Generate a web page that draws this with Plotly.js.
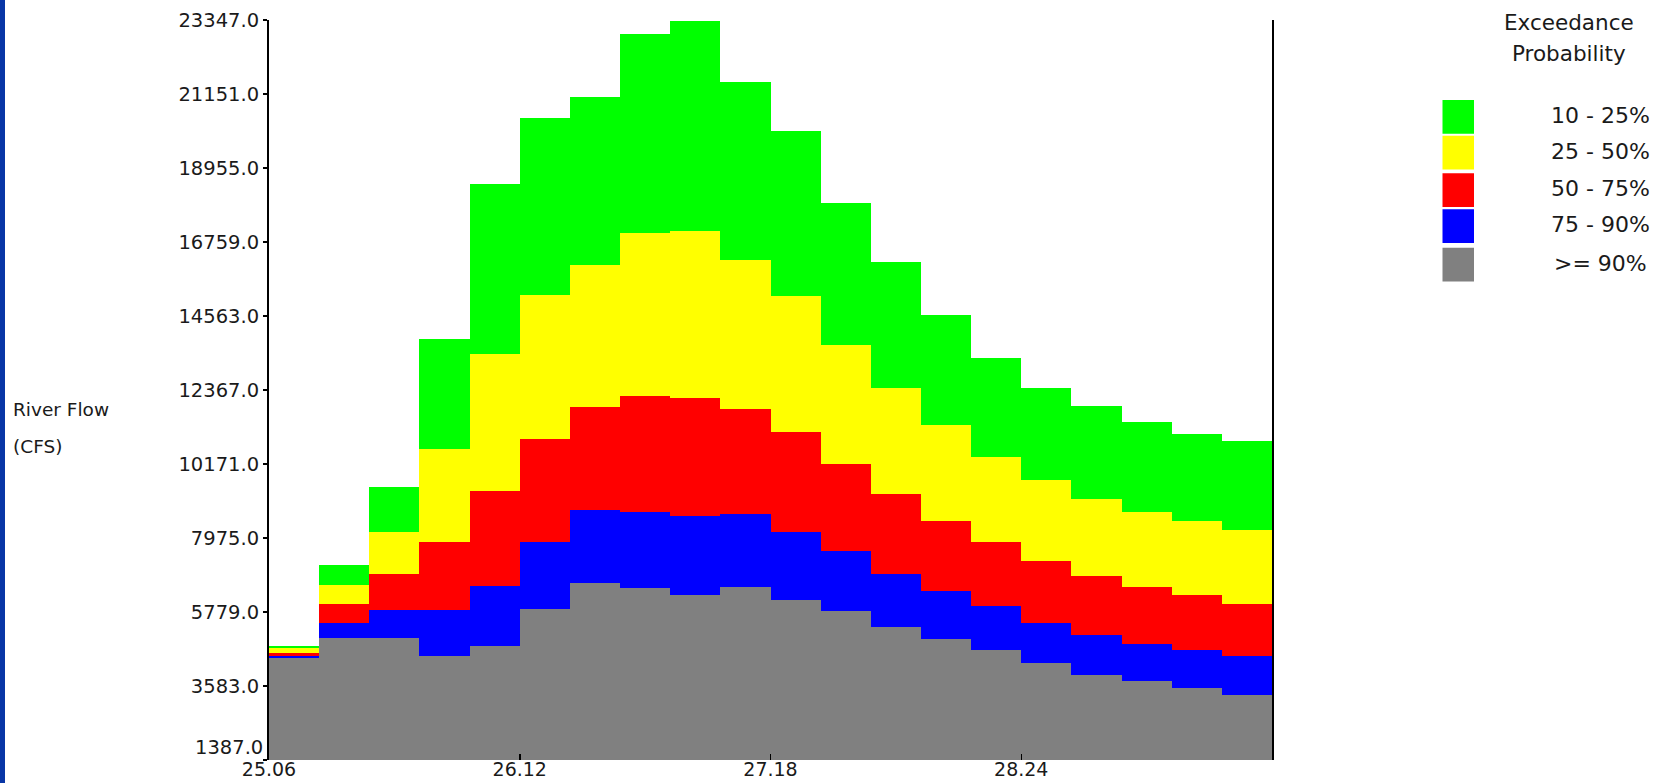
<!DOCTYPE html>
<html>
<head>
<meta charset="utf-8">
<script src="https://cdn.plot.ly/plotly-3.0.1.min.js"></script>
<style>
  html, body { margin: 0; padding: 0; background: #ffffff; }
  #chart { width: 1666px; height: 783px; }
  #edge { position: absolute; left: 0; top: 0; width: 5px; height: 783px; background: #0836a6; z-index: 10; }
</style>
</head>
<body>
<div id="edge"></div>
<div id="chart"></div>
<script>
// ---- Data ----
// Start of each time step on the x axis
const stepStart = [25.06, 25.272, 25.484, 25.696, 25.908, 26.12, 26.332, 26.544, 26.756, 26.968,
                   27.18, 27.392, 27.604, 27.816, 28.028, 28.24, 28.452, 28.664, 28.876, 29.088];
const stepWidth = 0.212;

// Upper boundary of each exceedance band (CFS)
const top10to25 = [4757, 7163, 9488, 13894, 18486, 20427, 21051, 22941, 23308, 21496,
                   20051, 17922, 16151, 14587, 13320, 12429, 11884, 11418, 11062, 10854];
const top25to50 = [4707, 6589, 8152, 10616, 13449, 15201, 16071, 17032, 17091, 16220,
                   15151, 13696, 12429, 11320, 10380, 9687, 9123, 8737, 8479, 8221];
const top50to75 = [4570, 6025, 6916, 7846, 9360, 10925, 11864, 12181, 12132, 11815,
                   11122, 10182, 9291, 8479, 7846, 7281, 6846, 6519, 6281, 6025];
const top75to90 = [4460, 5461, 5835, 5835, 6539, 7855, 8796, 8737, 8618, 8677,
                   8163, 7598, 6916, 6410, 5965, 5461, 5084, 4837, 4648, 4460];
const top90plus = [4401, 5016, 5016, 4460, 4766, 5856, 6648, 6480, 6291, 6519,
                   6143, 5797, 5331, 4965, 4648, 4273, 3896, 3718, 3519, 3322];

const bandLabels = ['10 - 25%', '25 - 50%', '50 - 75%', '75 - 90%', '>= 90%'];
const bandColors = ['#00ff00', '#ffff00', '#ff0000', '#0000ff', '#808080'];
const bandTops = [top10to25, top25to50, top50to75, top75to90, top90plus];

const yTickVals = [1387, 3583, 5779, 7975, 10171, 12367, 14563, 16759, 18955, 21151, 23347];
const yTickText = ['1387.0', '3583.0', '5779.0', '7975.0', '10171.0', '12367.0', '14563.0',
                   '16759.0', '18955.0', '21151.0', '23347.0'];
const xTickVals = [25.06, 26.12, 27.18, 28.24];
const xTickText = ['25.06', '26.12', '27.18', '28.24'];

const yTitleLines = ['River Flow', '(CFS)'];
const legendTitleLines = ['Exceedance', 'Probability'];

// ---- Geometry helpers (pixel -> paper) ----
const L = 269, R = 1272, T = 20, B = 760;
const px = x => (x - L) / (R - L);
const py = y => (B - y) / (B - T);

const FONT = 'DejaVu Sans, Verdana, sans-serif';
const TXT = '#1a1a1a';

// ---- Traces: bands drawn back to front, each from the floor to its top ----
const traces = bandTops.map((tops, i) => ({
  type: 'bar',
  x: stepStart,
  y: tops,
  width: stepWidth,
  offset: 0,
  name: bandLabels[i],
  marker: { color: bandColors[i], line: { width: 0 } },
  showlegend: false,
  hoverinfo: 'skip'
}));

// ---- Legend drawn as large swatches and centred labels ----
const swatchTop = [100, 135.7, 173.3, 209.3, 247.7];
const swatchH = 33.8;
const labelY = [115, 152, 188.5, 225, 263];
const shapes = bandColors.map((c, i) => ({
  type: 'rect', xref: 'paper', yref: 'paper',
  x0: px(1442.5), x1: px(1474),
  y0: py(swatchTop[i] + swatchH), y1: py(swatchTop[i]),
  fillcolor: c, line: { width: 0 }, layer: 'above'
}));

const annotations = [];
bandLabels.forEach((t, i) => annotations.push({
  xref: 'paper', yref: 'paper', x: px(1600), y: py(labelY[i]),
  xanchor: 'center', yanchor: 'middle', showarrow: false,
  text: t, font: { family: FONT, size: 22, color: TXT }
}));
legendTitleLines.forEach((t, i) => annotations.push({
  xref: 'paper', yref: 'paper', x: px(1569), y: py([23, 54][i]),
  xanchor: 'center', yanchor: 'middle', showarrow: false,
  text: t, font: { family: FONT, size: 21.5, color: TXT }
}));
yTitleLines.forEach((t, i) => annotations.push({
  xref: 'paper', yref: 'paper', x: px(11), y: py([410, 446][i]),
  xanchor: 'left', yanchor: 'middle', showarrow: false,
  text: t, font: { family: FONT, size: 18.5, color: TXT }
}));
// Bottom y tick label sits just above its tick (as in the reference)
annotations.push({
  xref: 'paper', yref: 'paper', x: px(265), y: py(761),
  xanchor: 'right', yanchor: 'bottom', showarrow: false,
  text: yTickText[0], font: { family: FONT, size: 19.5, color: TXT }
});
const yTickShown = yTickText.map((t, i) => (i === 0 ? '' : t));

const layout = {
  width: 1666, height: 783,
  margin: { l: L, r: 1666 - R, t: T, b: 783 - B, pad: 0 },
  paper_bgcolor: '#ffffff', plot_bgcolor: '#ffffff',
  barmode: 'overlay', bargap: 0,
  showlegend: false,
  font: { family: FONT, size: 19.5, color: TXT },
  xaxis: {
    range: [25.06, 29.30],
    tickmode: 'array', tickvals: xTickVals, ticktext: xTickText,
    ticks: 'inside', ticklen: 6, tickwidth: 1.5, tickcolor: '#000',
    ticklabelstandoff: -4,
    showgrid: false, zeroline: false, showline: false,
    tickfont: { family: FONT, size: 19, color: TXT }
  },
  yaxis: {
    range: [1387, 23347],
    tickmode: 'array', tickvals: yTickVals, ticktext: yTickShown,
    ticks: 'outside', ticklen: 4, tickwidth: 1.5, tickcolor: '#000',
    showline: true, linecolor: '#000', linewidth: 2, mirror: true,
    showgrid: false, zeroline: false,
    tickfont: { family: FONT, size: 19.5, color: TXT }
  },
  shapes: shapes,
  annotations: annotations
};

Plotly.newPlot('chart', traces, layout, { staticPlot: true, displayModeBar: false });
</script>
</body>
</html>
